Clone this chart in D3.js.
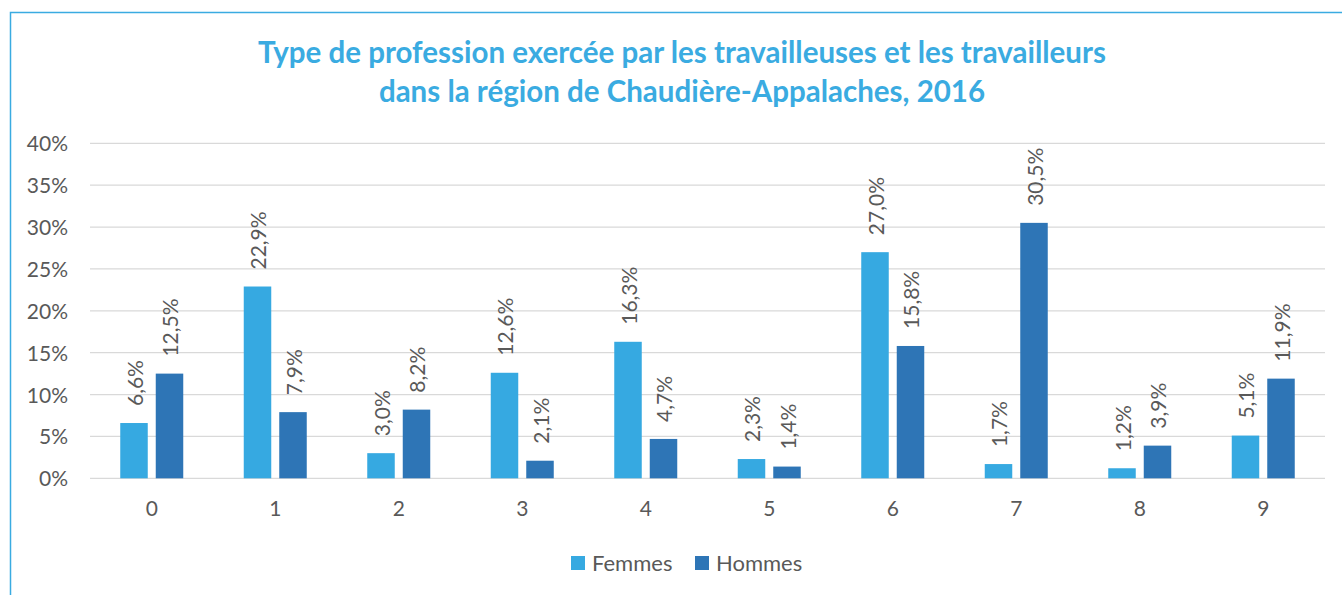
<!DOCTYPE html>
<html><head><meta charset="utf-8">
<script src="https://cdn.jsdelivr.net/npm/d3@7"></script>
<style>
html,body{margin:0;padding:0;background:#fff;}
svg{display:block;font-family:Lato,"Open Sans",sans-serif;}
</style></head>
<body>
<svg id="chart" width="1342" height="595"></svg>
<script>
const categories = ["0","1","2","3","4","5","6","7","8","9"];
const femmes = [6.6, 22.9, 3.0, 12.6, 16.3, 2.3, 27.0, 1.7, 1.2, 5.1];
const hommes = [12.5, 7.9, 8.2, 2.1, 4.7, 1.4, 15.8, 30.5, 3.9, 11.9];
const seriesNames = ["Femmes", "Hommes"];
const yTicks = [0, 5, 10, 15, 20, 25, 30, 35, 40];
const titleLines = ["Type de profession exercée par les travailleuses et les travailleurs",
                    "dans la région de Chaudière-Appalaches, 2016"];

const colors = ["#36A9E1", "#2E75B6"];
const textColor = "#595959";
const fs = 21;
const svg = d3.select("#chart");

// frame
svg.append("path").attr("d", "M10.5,595 L10.5,12.5 L1342,12.5")
  .attr("fill", "none").attr("stroke", "#3AABE1").attr("stroke-width", 1.5);

// title
const title = svg.append("text").attr("text-anchor", "middle")
  .attr("fill", "#3AABE1").attr("font-weight", "bold").attr("font-size", 29.5);
titleLines.forEach((t, i) => title.append("tspan").attr("x", 682).attr("y", 63 + i * 39).text(t));

const plotLeft = 90, plotRight = 1325, plotTop = 143.3, plotBottom = 478.3;
const x = d3.scaleBand().domain(categories).range([plotLeft, plotRight]);
const y = d3.scaleLinear().domain([0, 40]).range([plotBottom, plotTop]);

// gridlines
svg.append("g").selectAll("line").data(yTicks).join("line")
  .attr("x1", plotLeft).attr("x2", plotRight)
  .attr("y1", d => y(d)).attr("y2", d => y(d))
  .attr("stroke", "#D9D9D9").attr("stroke-width", 1.3);

// y axis
const yAxis = svg.append("g").attr("transform", `translate(${plotLeft - 22},0)`)
  .call(d3.axisLeft(y).tickValues(yTicks).tickSize(0).tickFormat(d => d + "%"));
yAxis.select(".domain").remove();
yAxis.selectAll("text").attr("fill", textColor).attr("font-size", fs)
  .attr("font-family", "Lato,'Open Sans',sans-serif").attr("dy", "0.36em").attr("x", 0);

// x axis
const xAxis = svg.append("g").attr("transform", `translate(0,${plotBottom + 23})`)
  .call(d3.axisBottom(x).tickSize(0));
xAxis.select(".domain").remove();
xAxis.selectAll("text").attr("fill", textColor).attr("font-size", fs)
  .attr("font-family", "Lato,'Open Sans',sans-serif").attr("dy", "0.71em").attr("y", 0);

const barW = 27.5, gap = 8;
const data = [femmes, hommes];
data.forEach((vals, s) => {
  const off = s === 0 ? -gap / 2 - barW : gap / 2;
  const g = svg.append("g");
  g.selectAll("rect").data(vals).join("rect")
    .attr("x", (d, i) => x(categories[i]) + x.bandwidth() / 2 + off)
    .attr("y", d => y(d))
    .attr("width", barW)
    .attr("height", d => plotBottom - y(d))
    .attr("fill", colors[s]);
  g.selectAll("text").data(vals).join("text")
    .attr("transform", (d, i) => {
      const cx = x(categories[i]) + x.bandwidth() / 2 + off + barW / 2;
      return `translate(${cx + 8.5},${y(d) - 17}) rotate(-90)`;
    })
    .attr("fill", textColor).attr("font-size", fs)
    .text(d => d.toFixed(1).replace(".", ",") + "%");
});

// legend
const legend = svg.append("g").attr("transform", "translate(571,556)");
seriesNames.forEach((n, i) => {
  const lg = legend.append("g").attr("transform", `translate(${i * 124},0)`);
  lg.append("rect").attr("width", 14).attr("height", 14).attr("fill", colors[i]);
  lg.append("text").attr("x", 21).attr("y", 14.5).attr("fill", textColor)
    .attr("font-size", fs + 1).text(n);
});
</script>
</body></html>
